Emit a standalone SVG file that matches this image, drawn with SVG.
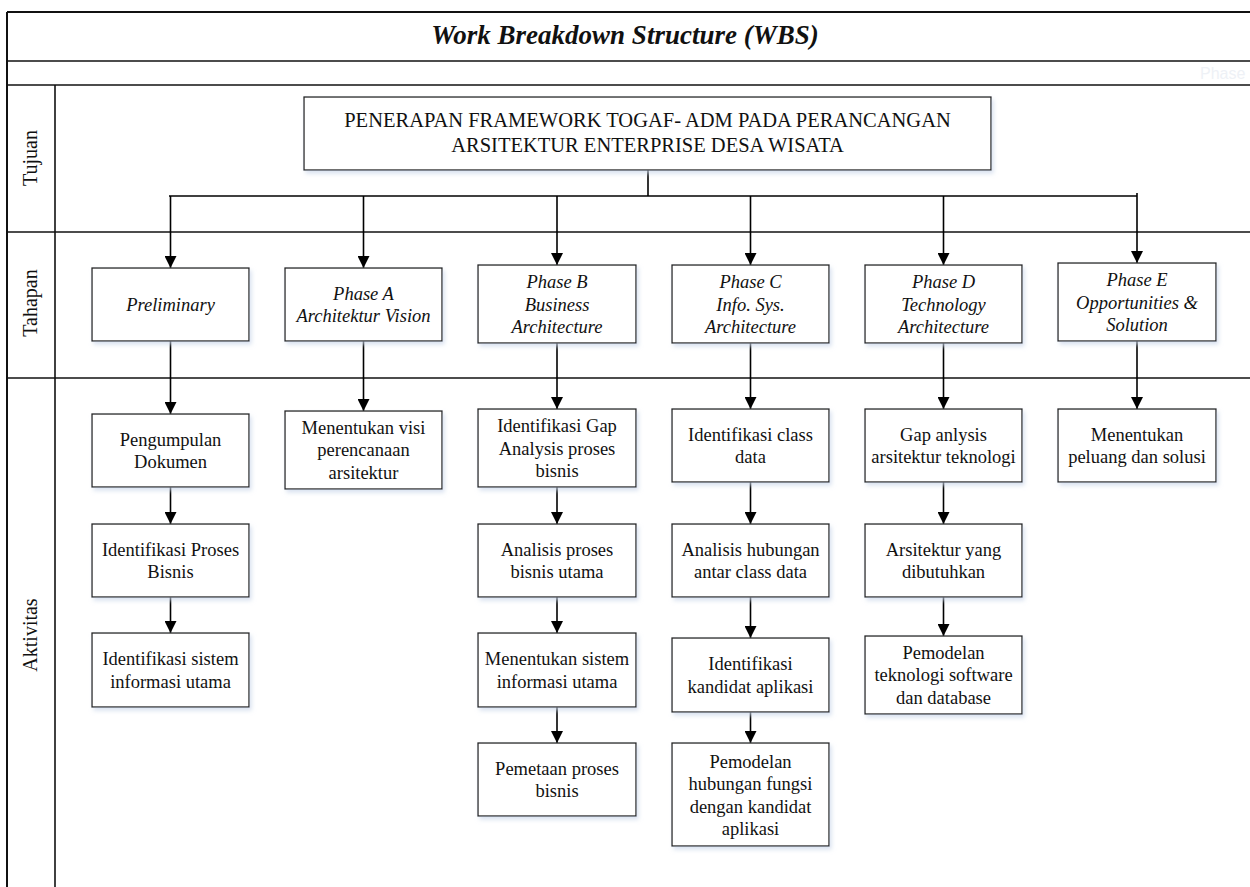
<svg xmlns="http://www.w3.org/2000/svg" width="1250" height="887" viewBox="0 0 1250 887">
<defs>
<style>
.frame{fill:none;stroke:#111;stroke-width:2}
.rowline{fill:none;stroke:#111;stroke-width:1.6}
.box{fill:#fff;stroke:#222;stroke-width:1.3;filter:url(#sh)}
.t{font-family:"Liberation Serif","Times New Roman",serif;font-size:18.5px;fill:#111;text-anchor:middle}
.ti{font-family:"Liberation Serif","Times New Roman",serif;font-size:18.5px;font-style:italic;fill:#111;text-anchor:middle}
.goal{font-family:"Liberation Serif","Times New Roman",serif;font-size:20.5px;fill:#111;text-anchor:middle}
.title{font-family:"Liberation Serif","Times New Roman",serif;font-size:27px;font-weight:bold;font-style:italic;fill:#111;text-anchor:middle}
.lab{font-family:"Liberation Serif","Times New Roman",serif;font-size:20px;fill:#111;text-anchor:middle}
.conn{fill:none;stroke:#000;stroke-width:1.6}
</style>
<filter id="sh" x="-10%" y="-10%" width="130%" height="140%">
<feDropShadow dx="2" dy="3" stdDeviation="2" flood-color="#c9d6ea" flood-opacity="0.7"/>
</filter>
<marker id="arr" markerUnits="userSpaceOnUse" markerWidth="12" markerHeight="12" refX="12" refY="6" orient="auto">
<path d="M0,0 L12,6 L0,12 z" fill="#000"/>
</marker>
</defs>
<rect width="1250" height="887" fill="#fff"/>

<g id="frame">
<line class="frame" x1="7" y1="12" x2="1250" y2="12"/>
<line class="frame" x1="7" y1="12" x2="7" y2="887"/>
<line class="rowline" x1="7" y1="61" x2="1250" y2="61"/>
<line class="rowline" x1="7" y1="85" x2="1250" y2="85"/>
<line class="rowline" x1="7" y1="232" x2="1250" y2="232"/>
<line class="rowline" x1="7" y1="378" x2="1250" y2="378"/>
<line class="rowline" x1="55" y1="85" x2="55" y2="887"/>
<text class="title" x="625" y="44">Work Breakdown Structure (WBS)</text>
<text x="1200" y="79" font-family="'Liberation Sans',Arial,sans-serif" font-size="16" fill="#eef1f6">Phase</text>
<text class="lab" transform="translate(37,158) rotate(-90)">Tujuan</text>
<text class="lab" transform="translate(37,303) rotate(-90)">Tahapan</text>
<text class="lab" transform="translate(37,635) rotate(-90)">Aktivitas</text>
</g>

<g id="connectors">
<line class="conn" x1="648" y1="170" x2="648" y2="196"/>
<line class="conn" x1="169" y1="196" x2="1137" y2="196"/>
<line class="conn" x1="170.5" y1="196" x2="170.5" y2="268" marker-end="url(#arr)"/>
<line class="conn" x1="363.5" y1="196" x2="363.5" y2="268" marker-end="url(#arr)"/>
<line class="conn" x1="557" y1="196" x2="557" y2="265" marker-end="url(#arr)"/>
<line class="conn" x1="750.5" y1="196" x2="750.5" y2="265" marker-end="url(#arr)"/>
<line class="conn" x1="943.5" y1="196" x2="943.5" y2="265" marker-end="url(#arr)"/>
<line class="conn" x1="1137" y1="193" x2="1137" y2="263" marker-end="url(#arr)"/>

<line class="conn" x1="170.5" y1="341" x2="170.5" y2="414" marker-end="url(#arr)"/>
<line class="conn" x1="170.5" y1="487" x2="170.5" y2="524" marker-end="url(#arr)"/>
<line class="conn" x1="170.5" y1="597" x2="170.5" y2="633" marker-end="url(#arr)"/>

<line class="conn" x1="363.5" y1="341" x2="363.5" y2="411" marker-end="url(#arr)"/>

<line class="conn" x1="557" y1="343" x2="557" y2="409" marker-end="url(#arr)"/>
<line class="conn" x1="557" y1="487" x2="557" y2="524" marker-end="url(#arr)"/>
<line class="conn" x1="557" y1="597" x2="557" y2="633" marker-end="url(#arr)"/>
<line class="conn" x1="557" y1="707" x2="557" y2="743" marker-end="url(#arr)"/>

<line class="conn" x1="750.5" y1="343" x2="750.5" y2="409" marker-end="url(#arr)"/>
<line class="conn" x1="750.5" y1="482" x2="750.5" y2="524" marker-end="url(#arr)"/>
<line class="conn" x1="750.5" y1="597" x2="750.5" y2="638" marker-end="url(#arr)"/>
<line class="conn" x1="750.5" y1="712" x2="750.5" y2="743" marker-end="url(#arr)"/>

<line class="conn" x1="943.5" y1="343" x2="943.5" y2="409" marker-end="url(#arr)"/>
<line class="conn" x1="943.5" y1="482" x2="943.5" y2="524" marker-end="url(#arr)"/>
<line class="conn" x1="943.5" y1="597" x2="943.5" y2="636" marker-end="url(#arr)"/>

<line class="conn" x1="1137" y1="341" x2="1137" y2="409" marker-end="url(#arr)"/>
</g>

<g id="goal">
<rect class="box" x="304" y="97" width="687" height="73"/>
<text class="goal" x="647.5" y="127">PENERAPAN FRAMEWORK TOGAF- ADM PADA PERANCANGAN</text>
<text class="goal" x="647.5" y="152">ARSITEKTUR ENTERPRISE DESA WISATA</text>
</g>

<g id="preliminary">
<rect class="box" x="92" y="268" width="157" height="73"/>
<text class="ti" x="170.5" y="311">Preliminary</text>
</g>
<g id="phaseA">
<rect class="box" x="285" y="268" width="157" height="73"/>
<text class="ti" x="363.5" y="299.5">Phase A</text>
<text class="ti" x="363.5" y="322">Architektur Vision</text>
</g>
<g id="phaseB">
<rect class="box" x="478" y="265" width="158" height="78"/>
<text class="ti" x="557" y="288">Phase B</text>
<text class="ti" x="557" y="310.5">Business</text>
<text class="ti" x="557" y="333">Architecture</text>
</g>
<g id="phaseC">
<rect class="box" x="672" y="265" width="157" height="78"/>
<text class="ti" x="750.5" y="288">Phase C</text>
<text class="ti" x="750.5" y="310.5">Info. Sys.</text>
<text class="ti" x="750.5" y="333">Architecture</text>
</g>
<g id="phaseD">
<rect class="box" x="865" y="265" width="157" height="78"/>
<text class="ti" x="943.5" y="288">Phase D</text>
<text class="ti" x="943.5" y="310.5">Technology</text>
<text class="ti" x="943.5" y="333">Architecture</text>
</g>
<g id="phaseE">
<rect class="box" x="1058" y="263" width="158" height="78"/>
<text class="ti" x="1137" y="286">Phase E</text>
<text class="ti" x="1137" y="308.5">Opportunities &amp;</text>
<text class="ti" x="1137" y="331">Solution</text>
</g>

<g id="pengumpulan">
<rect class="box" x="92" y="414" width="157" height="73"/>
<text class="t" x="170.5" y="445.5">Pengumpulan</text>
<text class="t" x="170.5" y="468">Dokumen</text>
</g>
<g id="identProses">
<rect class="box" x="92" y="524" width="157" height="73"/>
<text class="t" x="170.5" y="555.5">Identifikasi Proses</text>
<text class="t" x="170.5" y="578">Bisnis</text>
</g>
<g id="identSistem">
<rect class="box" x="92" y="633" width="157" height="74"/>
<text class="t" x="170.5" y="665">Identifikasi sistem</text>
<text class="t" x="170.5" y="687.5">informasi utama</text>
</g>

<g id="visi">
<rect class="box" x="285" y="411" width="157" height="78"/>
<text class="t" x="363.5" y="433.5">Menentukan visi</text>
<text class="t" x="363.5" y="456">perencanaan</text>
<text class="t" x="363.5" y="478.5">arsitektur</text>
</g>

<g id="gapBisnis">
<rect class="box" x="478" y="409" width="158" height="78"/>
<text class="t" x="557" y="432">Identifikasi Gap</text>
<text class="t" x="557" y="454.5">Analysis proses</text>
<text class="t" x="557" y="477">bisnis</text>
</g>
<g id="analisisProses">
<rect class="box" x="478" y="524" width="158" height="73"/>
<text class="t" x="557" y="555.5">Analisis proses</text>
<text class="t" x="557" y="578">bisnis utama</text>
</g>
<g id="menentukanSistem">
<rect class="box" x="478" y="633" width="158" height="74"/>
<text class="t" x="557" y="665">Menentukan sistem</text>
<text class="t" x="557" y="687.5">informasi utama</text>
</g>
<g id="pemetaan">
<rect class="box" x="478" y="743" width="158" height="73"/>
<text class="t" x="557" y="774.5">Pemetaan proses</text>
<text class="t" x="557" y="797">bisnis</text>
</g>

<g id="classData">
<rect class="box" x="672" y="409" width="157" height="73"/>
<text class="t" x="750.5" y="440.5">Identifikasi class</text>
<text class="t" x="750.5" y="463">data</text>
</g>
<g id="hubunganClass">
<rect class="box" x="672" y="524" width="157" height="73"/>
<text class="t" x="750.5" y="555.5">Analisis hubungan</text>
<text class="t" x="750.5" y="578">antar class data</text>
</g>
<g id="kandidat">
<rect class="box" x="672" y="638" width="157" height="74"/>
<text class="t" x="750.5" y="670">Identifikasi</text>
<text class="t" x="750.5" y="692.5">kandidat aplikasi</text>
</g>
<g id="pemodelanFungsi">
<rect class="box" x="672" y="743" width="157" height="103"/>
<text class="t" x="750.5" y="767.5">Pemodelan</text>
<text class="t" x="750.5" y="790">hubungan fungsi</text>
<text class="t" x="750.5" y="812.5">dengan kandidat</text>
<text class="t" x="750.5" y="835">aplikasi</text>
</g>

<g id="gapTeknologi">
<rect class="box" x="865" y="409" width="157" height="73"/>
<text class="t" x="943.5" y="440.5">Gap anlysis</text>
<text class="t" x="943.5" y="463">arsitektur teknologi</text>
</g>
<g id="arsitekturDibutuhkan">
<rect class="box" x="865" y="524" width="157" height="73"/>
<text class="t" x="943.5" y="555.5">Arsitektur yang</text>
<text class="t" x="943.5" y="578">dibutuhkan</text>
</g>
<g id="pemodelanTeknologi">
<rect class="box" x="865" y="636" width="157" height="78"/>
<text class="t" x="943.5" y="658.5">Pemodelan</text>
<text class="t" x="943.5" y="681">teknologi software</text>
<text class="t" x="943.5" y="703.5">dan database</text>
</g>

<g id="peluang">
<rect class="box" x="1058" y="409" width="158" height="73"/>
<text class="t" x="1137" y="440.5">Menentukan</text>
<text class="t" x="1137" y="463">peluang dan solusi</text>
</g>
</svg>
